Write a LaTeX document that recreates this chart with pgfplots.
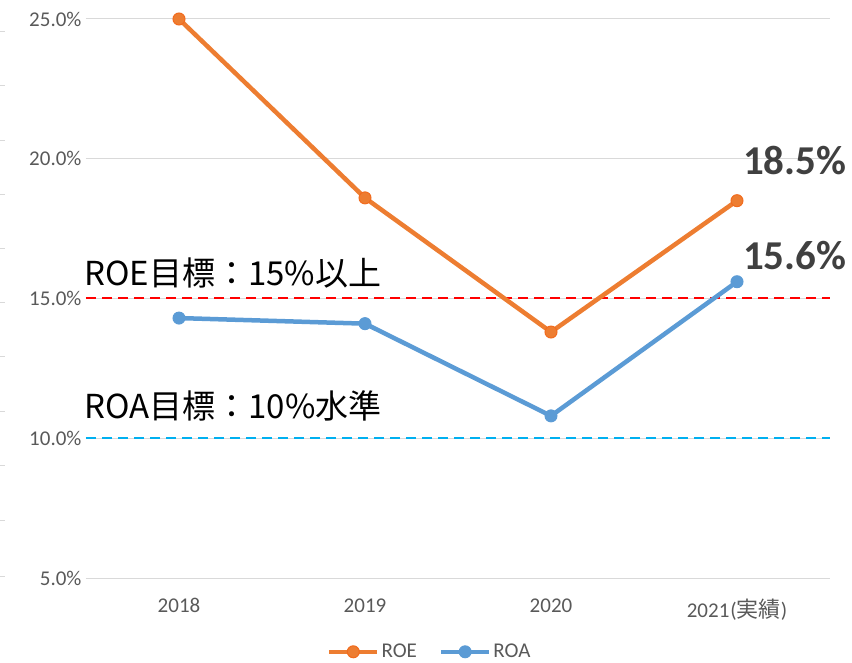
\documentclass[border=0pt]{standalone}
\usepackage{pgfplots}
\pgfplotsset{compat=1.18}
\usepackage{fontspec}
\setmainfont{Carlito}
\newfontfamily\cjk{Noto Sans CJK JP}
\definecolor{roe}{HTML}{ED7D31}
\definecolor{roeedge}{HTML}{F26B1D}
\definecolor{roa}{HTML}{5B9BD5}
\definecolor{tickgray}{HTML}{595959}
\definecolor{gridgray}{HTML}{D9D9D9}
\definecolor{lbl}{HTML}{404040}
\definecolor{tgtred}{HTML}{FF0000}
\definecolor{tgtblue}{HTML}{00B0F0}
\begin{document}
\begin{tikzpicture}
\path[use as bounding box] (0,0) rectangle (852pt,662pt);
\foreach \yy in {32,86,141,195,249,303,357,412,466,521,576} {
  \draw[gridgray, line width=1pt] (0pt,{(662-\yy)*1pt}) -- (5pt,{(662-\yy)*1pt});
}
\begin{axis}[
  at={(86pt,84pt)}, anchor=south west,
  scale only axis, width=744pt, height=559pt,
  xmin=-0.5, xmax=3.5, ymin=5, ymax=25,
  axis line style={draw=none},
  major tick length=0pt,
  ytick={5,10,15,20,25},
  yticklabels={5.0\%,10.0\%,15.0\%,20.0\%,25.0\%},
  xtick={0,1,2,3},
  xticklabels={2018,2019,2020,{2021\kern1pt({\cjk\fontsize{22}{22}\selectfont 実績})}},
  ymajorgrids,
  grid style={gridgray, line width=1pt},
  tick label style={font=\fontsize{21}{21}\selectfont, text=tickgray},
  yticklabel style={xshift=-1pt},
  xticklabel style={yshift=-17pt},
  clip=false,
  legend style={at={(0.462,-0.132)}, anchor=center, draw=none, fill=none,
    legend columns=2, font=\fontsize{21}{21}\selectfont, text=tickgray,
    /tikz/every even column/.append style={column sep=20pt}},
  legend image code/.code={\draw[mark repeat=2,mark phase=2,#1] plot coordinates {(0pt,0pt)(24pt,0pt)(48pt,0pt)};},
]
\addplot[tgtred, line width=2pt, dash pattern=on 10pt off 6pt, forget plot] coordinates {(-0.5,15)(3.5,15)};
\addplot[tgtblue, line width=2pt, dash pattern=on 10pt off 6pt, forget plot] coordinates {(-0.5,10)(3.5,10)};
\addplot[roe, line width=4.5pt, mark=*, mark size=6pt, mark options={solid, line width=1pt, fill=roe, draw=roeedge}] coordinates {(0,25.0)(1,18.6)(2,13.8)(3,18.5)};
\addlegendentry{ROE}
\addplot[roa, line width=4.5pt, mark=*, mark size=6pt, mark options={solid, line width=1pt, fill=roa, draw=roa}] coordinates {(0,14.3)(1,14.1)(2,10.8)(3,15.6)};
\addlegendentry{ROA}
\addplot[draw=none, forget plot, point meta=explicit symbolic,
  nodes near coords,
  nodes near coords style={anchor=base west, xshift=6pt, yshift=26pt, font=\bfseries\fontsize{41}{41}\selectfont, text=lbl, inner sep=0pt}]
  coordinates {(3,18.5) [18.5\%]};
\addplot[draw=none, forget plot, point meta=explicit symbolic,
  nodes near coords,
  nodes near coords style={anchor=base west, xshift=6pt, yshift=12pt, font=\bfseries\fontsize{41}{41}\selectfont, text=lbl, inner sep=0pt}]
  coordinates {(3,15.6) [15.6\%]};
\node[anchor=base west, inner sep=0pt, xshift=-2pt, yshift=13pt, font=\cjk\fontsize{33}{33}\selectfont] at (axis cs:-0.5,15) {ROE目標：15\%以上};
\node[anchor=base west, inner sep=0pt, xshift=-2pt, yshift=20pt, font=\cjk\fontsize{33}{33}\selectfont] at (axis cs:-0.5,10) {ROA目標：10\%水準};
\end{axis}
\end{tikzpicture}
\end{document}
